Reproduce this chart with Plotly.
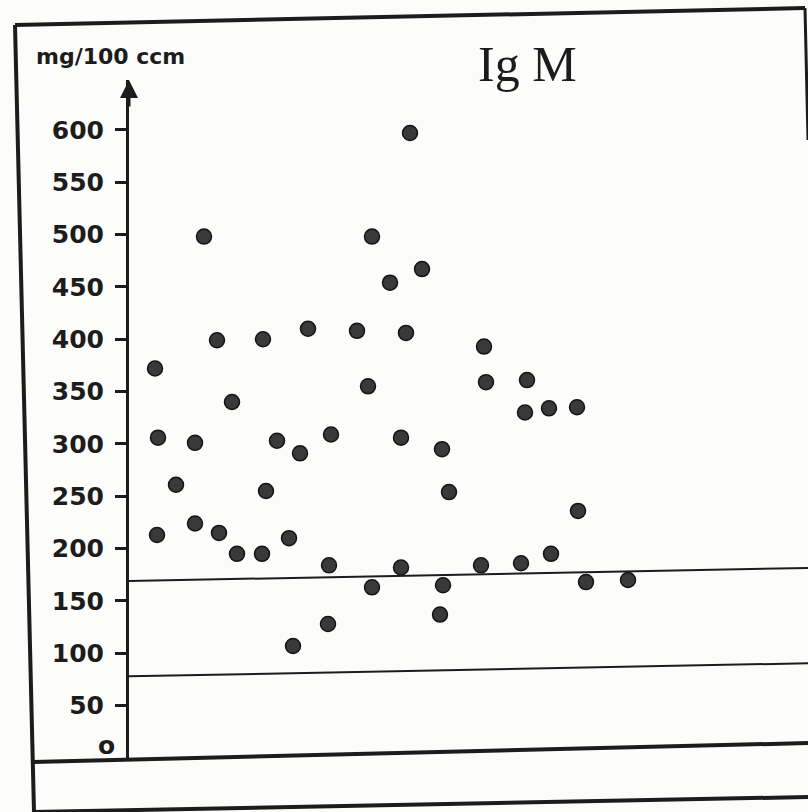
import plotly.graph_objects as go

# --- data (x: arbitrary horizontal position, y: mg/100 ccm) ---
x_pos = [26, 29, 28, 47, 66, 66, 75, 88, 90, 103, 108, 133, 134, 137, 148, 160,
         164, 171, 179, 200, 199, 202, 228, 239, 243, 243, 261, 272, 272, 277,
         281, 293, 313, 314, 311, 320, 355, 357, 352, 392, 398, 396, 420, 422,
         448, 449, 457, 499]
igm = [372, 306, 213, 261, 224, 301, 498, 399, 215, 340, 195, 195, 400, 255,
       303, 210, 107, 291, 410, 184, 128, 309, 408, 355, 498, 163, 454, 306,
       182, 406, 597, 467, 295, 165, 137, 254, 393, 359, 184, 186, 361, 330,
       334, 195, 335, 236, 168, 170]

tick_vals = [50, 100, 150, 200, 250, 300, 350, 400, 450, 500, 550, 600]
tick_text = ["50", "100", "150", "200", "250", "300", "350", "400", "450",
             "500", "550", "600"]
zero_label = "o"
ref_levels = [169, 78]     # reference lines (left end values)
ref_tilt = 12.5            # scan tilt of those lines across the plot (value units)

title_text = "Ig M"
unit_text = "mg/100 ccm"

W, H = 808, 812
INK = "#1c1c1c"
PAPER = "#fcfcfa"

fig = go.Figure()
fig.add_trace(go.Scatter(
    x=x_pos, y=igm, mode="markers",
    marker=dict(size=15, color="#393939", line=dict(color="#141414", width=1.5)),
    cliponaxis=False, showlegend=False, hoverinfo="y"))

def px(xp):
    return xp / W

def py(yp):
    return 1 - yp / H

shapes = []
frame_lines = [
    ((15, 25), (805, 8), 4),      # top border
    ((15, 25), (34, 812), 4),     # left border
    ((805, 8), (808, 140), 3),    # right border (visible part)
    ((33, 762), (808, 743), 4),   # base line
    ((33, 812), (808, 797), 4),   # bottom line
]
for (a, b, w) in frame_lines:
    shapes.append(dict(type="line", xref="paper", yref="paper",
                       x0=px(a[0]), y0=py(a[1]), x1=px(b[0]), y1=py(b[1]),
                       line=dict(color=INK, width=w)))
for lv in ref_levels:
    shapes.append(dict(type="line", xref="x", yref="y",
                       x0=0, y0=lv, x1=679, y1=lv + ref_tilt,
                       line=dict(color=INK, width=2)))

fig.update_layout(
    width=W, height=H,
    margin=dict(l=0, r=0, t=0, b=0, pad=0),
    paper_bgcolor=PAPER, plot_bgcolor=PAPER,
    shapes=shapes,
    xaxis=dict(domain=[129 / W, 1], range=[0, 679], visible=False,
               automargin=False),
    yaxis=dict(domain=[(H - 758) / H, (H - 80) / H], range=[0, 647.6],
               automargin=False,
               showgrid=False, zeroline=False, showline=True, linecolor=INK,
               linewidth=3, ticks="outside", ticklen=11, tickwidth=3,
               tickcolor=INK, tickvals=tick_vals, ticktext=tick_text,
               ticklabelstandoff=6,
               tickfont=dict(family="DejaVu Sans", size=25, color=INK,
                             weight="bold")),
    annotations=[
        dict(x=0, y=647.6, xref="x", yref="y", ax=0, ay=28, axref="pixel",
             text="", showarrow=True, arrowhead=2, arrowsize=1.2,
             arrowwidth=3, arrowcolor=INK, standoff=0),
        dict(x=0, y=0, xref="x", yref="y", xanchor="right", yanchor="middle",
             xshift=-12, yshift=13, text=zero_label, showarrow=False,
             font=dict(family="DejaVu Sans", size=25, color=INK, weight="bold")),
        dict(x=110 / W, y=py(57), xref="paper", yref="paper",
             xanchor="center", yanchor="middle",
             text=unit_text, showarrow=False,
             font=dict(family="DejaVu Sans", size=22, color=INK, weight="bold")),
        dict(x=527 / W, y=py(64), xref="paper", yref="paper",
             xanchor="center", yanchor="middle",
             text=title_text, showarrow=False,
             font=dict(family="Liberation Serif", size=50, color=INK)),
    ],
)

fig.write_html("out.html", config={"displayModeBar": False},
               post_script="document.body.style.margin='0';"
                           "document.body.style.overflow='hidden';")
